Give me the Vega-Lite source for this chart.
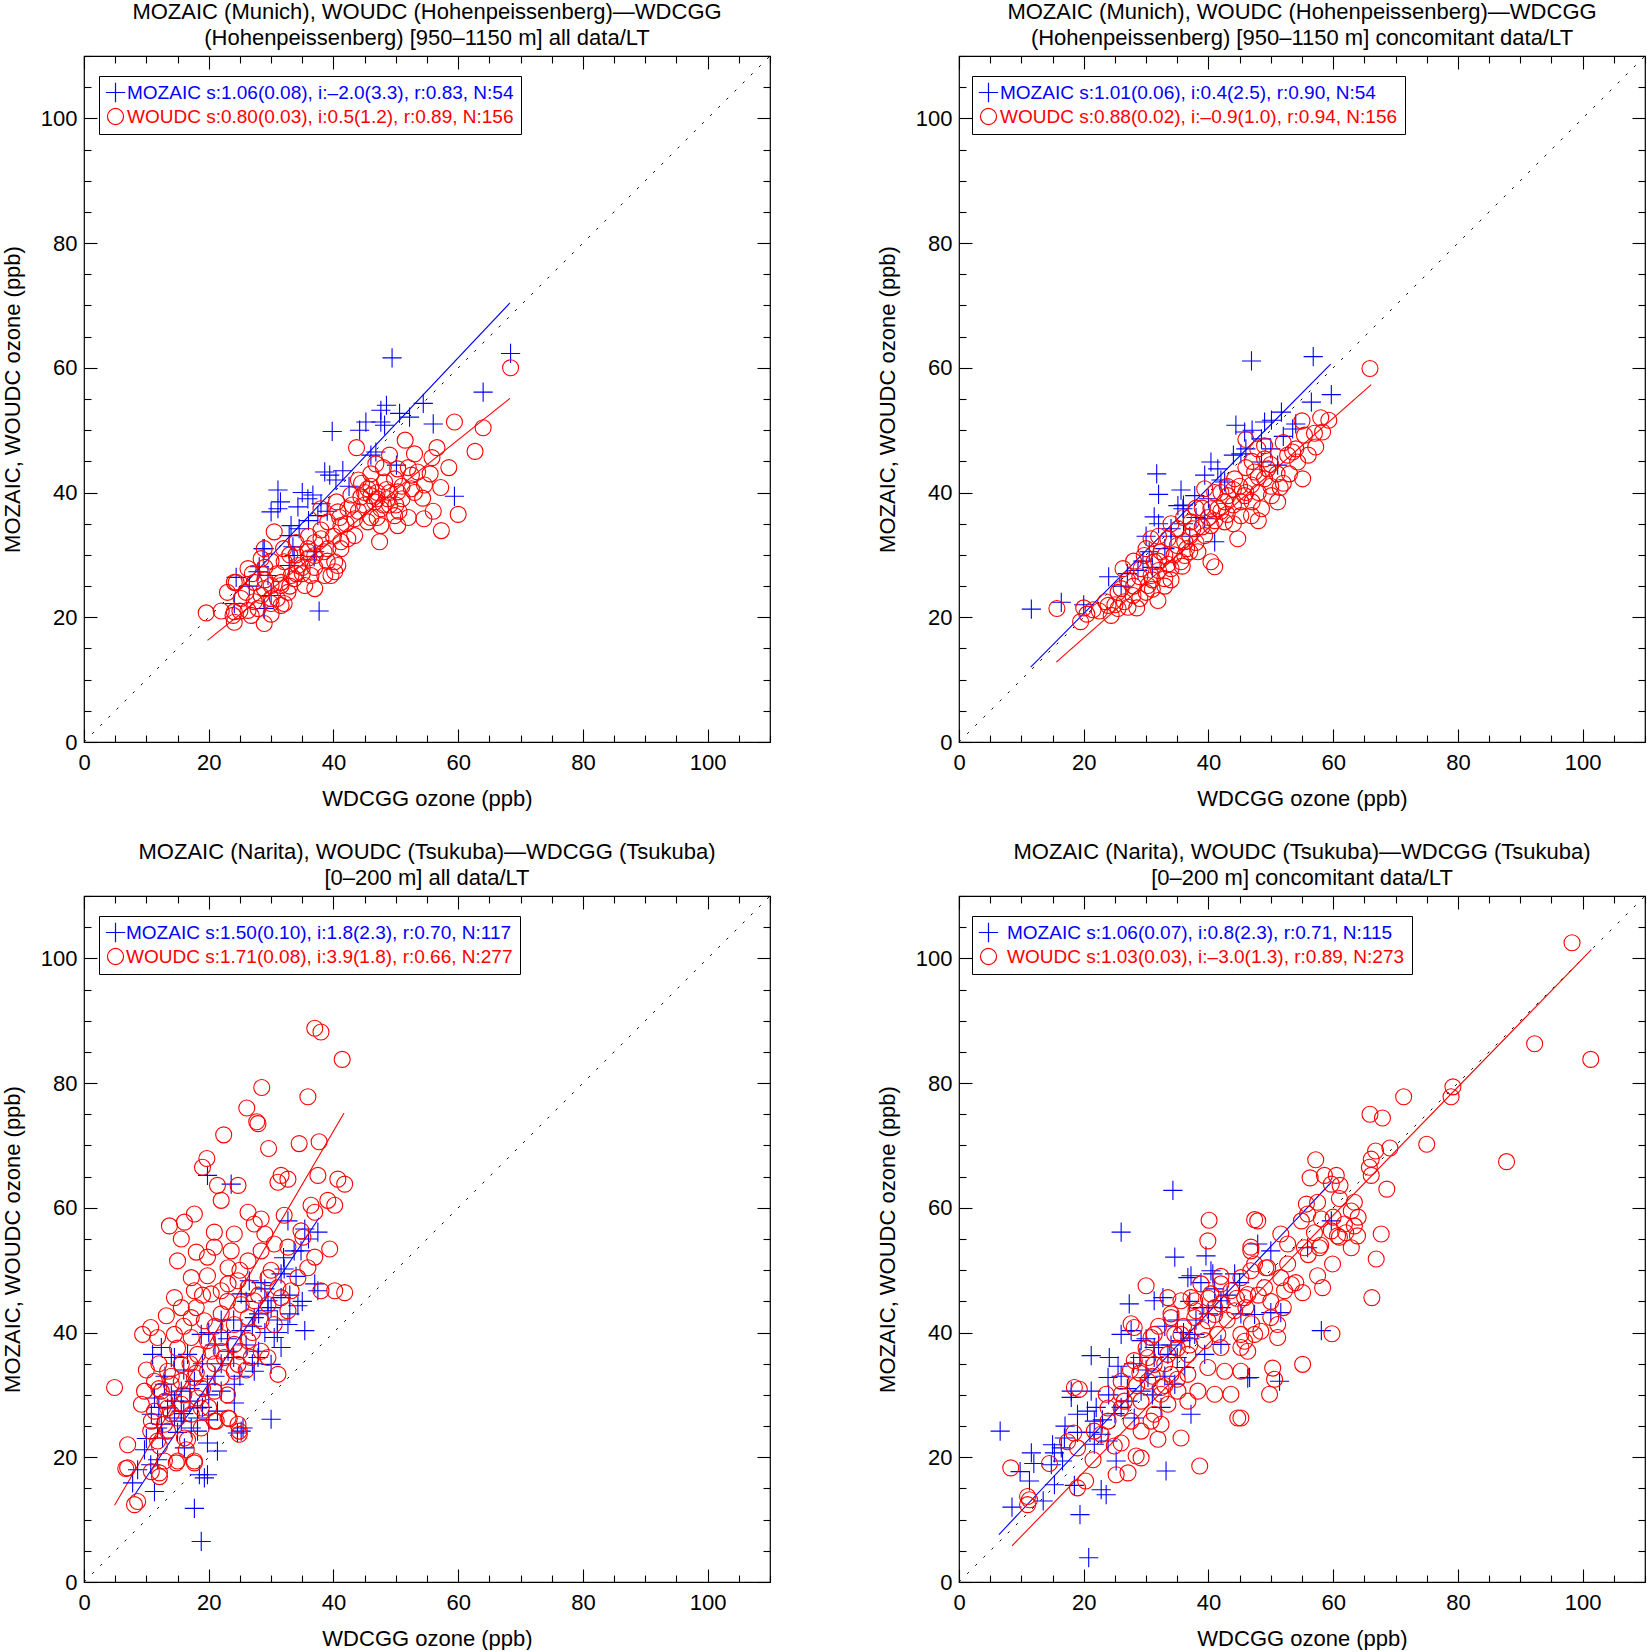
{
  "$schema": "https://vega.github.io/schema/vega-lite/v6.json",
  "padding": 0,
  "config": {
    "font": "Liberation Sans",
    "view": {"stroke": "black", "strokeWidth": 1.2},
    "title": {"fontSize": 22, "fontWeight": "normal", "offset": -5, "lineHeight": 26, "color": "black"},
    "axis": {"labelFontSize": 22, "titleFontSize": 22, "titleFontWeight": "normal", "labelColor": "black", "titleColor": "black", "tickColor": "black", "tickWidth": 1.1, "grid": false, "domain": false, "labelOverlap": false, "labelFlush": false, "tickSize": {"expr": "datum.value % 20 === 0 ? -13 : -7"}},
    "legend": {"title": null, "orient": "none", "strokeColor": "black", "fillColor": "white", "padding": 7, "labelFontSize": 19, "labelLimit": 1000, "symbolSize": 260, "symbolStrokeWidth": 1.2, "rowPadding": 1, "labelColor": {"expr": "datum.value === 'M' ? '#0000ff' : '#ff0000'"}}
  },
  "datasets": {
    "reg": [
      {"p": 1, "s": "M", "x": 24.3, "y": 23.8}, {"p": 1, "s": "M", "x": 68.3, "y": 70.4},
      {"p": 1, "s": "W", "x": 19.8, "y": 16.3}, {"p": 1, "s": "W", "x": 68.3, "y": 55.1},
      {"p": 2, "s": "M", "x": 11.5, "y": 12.0}, {"p": 2, "s": "M", "x": 59.6, "y": 60.6},
      {"p": 2, "s": "W", "x": 15.6, "y": 12.8}, {"p": 2, "s": "W", "x": 66.1, "y": 57.3},
      {"p": 3, "s": "M", "x": 8.0, "y": 13.8}, {"p": 3, "s": "M", "x": 37.7, "y": 58.4},
      {"p": 3, "s": "W", "x": 4.9, "y": 12.3}, {"p": 3, "s": "W", "x": 41.7, "y": 75.2},
      {"p": 4, "s": "M", "x": 6.4, "y": 7.6}, {"p": 4, "s": "M", "x": 59.7, "y": 64.1},
      {"p": 4, "s": "W", "x": 8.5, "y": 5.8}, {"p": 4, "s": "W", "x": 101.4, "y": 101.4}
    ],
    "diag": [{"x": 0, "y": 0}, {"x": 110, "y": 110}],
    "p1": [
      {"s":"M","x":49.4,"y":61.6},{"s":"M","x":64.0,"y":56.1},{"s":"M","x":68.4,"y":62.3},{"s":"M","x":54.4,"y":54.3},{"s":"M","x":52.2,"y":52.1},{"s":"M","x":50.6,"y":52.7},{"s":"M","x":47.6,"y":53.2},{"s":"M","x":47.6,"y":51.3},{"s":"M","x":48.2,"y":50.8},{"s":"M","x":45.2,"y":51.3},{"s":"M","x":44.2,"y":50.0},{"s":"M","x":39.8,"y":49.8},{"s":"M","x":56.0,"y":51.0},{"s":"M","x":46.8,"y":46.5},{"s":"M","x":50.1,"y":44.4},{"s":"M","x":38.6,"y":43.3},{"s":"M","x":39.4,"y":42.8},{"s":"M","x":40.4,"y":42.0},{"s":"M","x":31.1,"y":40.4},{"s":"M","x":36.7,"y":39.6},{"s":"M","x":35.9,"y":39.0},{"s":"M","x":31.1,"y":37.4},{"s":"M","x":30.0,"y":36.9},{"s":"M","x":34.3,"y":37.7},{"s":"M","x":38.0,"y":38.2},{"s":"M","x":37.5,"y":36.3},{"s":"M","x":33.2,"y":34.7},{"s":"M","x":34.5,"y":34.2},{"s":"M","x":59.4,"y":39.4},{"s":"M","x":28.9,"y":31.0},{"s":"M","x":37.0,"y":30.5},{"s":"M","x":28.1,"y":28.1},{"s":"M","x":24.4,"y":26.4},{"s":"M","x":29.5,"y":26.7},{"s":"M","x":28.9,"y":21.4},{"s":"M","x":37.7,"y":21.0},{"s":"M","x":33.7,"y":29.9},{"s":"M","x":32.9,"y":33.1},{"s":"M","x":24.1,"y":22.2},{"s":"M","x":28.7,"y":31.0},{"s":"M","x":27.9,"y":27.3},{"s":"M","x":33.5,"y":31.3},{"s":"M","x":32.9,"y":28.3},{"s":"M","x":30.0,"y":23.5},{"s":"M","x":36.9,"y":29.7},{"s":"M","x":41.5,"y":43.5},{"s":"M","x":42.5,"y":41.0},{"s":"M","x":36.0,"y":35.5},{"s":"M","x":39.0,"y":37.0},{"s":"M","x":48.5,"y":54.0},{"s":"M","x":46.0,"y":46.0},{"s":"M","x":31.5,"y":38.5},{"s":"M","x":26.5,"y":25.0},{"s":"M","x":35.0,"y":40.0},
      {"s":"W","x":59.4,"y":51.3},{"s":"W","x":64.0,"y":50.4},{"s":"W","x":62.7,"y":46.6},{"s":"W","x":68.4,"y":60.0},{"s":"W","x":51.5,"y":48.4},{"s":"W","x":43.7,"y":47.2},{"s":"W","x":53.0,"y":46.2},{"s":"W","x":56.6,"y":47.2},{"s":"W","x":55.8,"y":45.6},{"s":"W","x":46.8,"y":44.6},{"s":"W","x":53.5,"y":43.3},{"s":"W","x":57.2,"y":40.8},{"s":"W","x":54.3,"y":39.1},{"s":"W","x":54.5,"y":35.8},{"s":"W","x":57.3,"y":33.9},{"s":"W","x":38.0,"y":37.4},{"s":"W","x":30.5,"y":33.7},{"s":"W","x":28.9,"y":31.0},{"s":"W","x":24.4,"y":25.6},{"s":"W","x":19.6,"y":20.7},{"s":"W","x":28.4,"y":29.4},{"s":"W","x":60.0,"y":36.5},
      {"s":"W","x":50.3,"y":43.8},{"s":"W","x":49.8,"y":42.2},{"s":"W","x":52.5,"y":42.8},{"s":"W","x":48.2,"y":41.7},{"s":"W","x":45.5,"y":40.6},{"s":"W","x":44.4,"y":39.3},{"s":"W","x":46.6,"y":38.5},{"s":"W","x":48.7,"y":39.0},{"s":"W","x":50.3,"y":40.1},{"s":"W","x":52.5,"y":40.6},{"s":"W","x":54.6,"y":41.2},{"s":"W","x":47.6,"y":37.4},{"s":"W","x":49.8,"y":36.3},{"s":"W","x":47.6,"y":34.7},{"s":"W","x":45.5,"y":35.3},{"s":"W","x":50.3,"y":34.7},{"s":"W","x":43.4,"y":35.8},{"s":"W","x":42.3,"y":37.4},{"s":"W","x":42.8,"y":39.6},{"s":"W","x":40.7,"y":36.9},{"s":"W","x":41.2,"y":34.7},{"s":"W","x":39.1,"y":35.3},{"s":"W","x":38.0,"y":32.6},{"s":"W","x":35.9,"y":31.0},{"s":"W","x":37.0,"y":29.9},{"s":"W","x":39.1,"y":31.0},{"s":"W","x":40.2,"y":28.9},{"s":"W","x":38.6,"y":26.7},{"s":"W","x":40.2,"y":27.3},{"s":"W","x":36.4,"y":26.7},{"s":"W","x":34.3,"y":28.3},{"s":"W","x":32.1,"y":28.9},{"s":"W","x":33.2,"y":26.7},{"s":"W","x":31.6,"y":25.6},{"s":"W","x":30.0,"y":25.1},{"s":"W","x":28.9,"y":24.6},{"s":"W","x":27.3,"y":25.6},{"s":"W","x":30.0,"y":23.0},{"s":"W","x":27.9,"y":21.4},{"s":"W","x":31.6,"y":21.9},{"s":"W","x":32.7,"y":24.0},{"s":"W","x":37.0,"y":24.6},{"s":"W","x":35.4,"y":25.1},{"s":"W","x":41.2,"y":32.1},{"s":"W","x":42.3,"y":32.6},{"s":"W","x":43.4,"y":33.1},{"s":"W","x":26.3,"y":27.8},{"s":"W","x":24.1,"y":25.6},{"s":"W","x":25.2,"y":23.0},{"s":"W","x":23.9,"y":20.3},{"s":"W","x":26.8,"y":20.3},
      {"s":"W","x":24.1,"y":20.9},{"s":"W","x":24.1,"y":19.2},{"s":"W","x":28.9,"y":19.0},{"s":"W","x":26.3,"y":21.1},{"s":"W","x":32.1,"y":22.2},{"s":"W","x":30.0,"y":22.2},{"s":"W","x":28.4,"y":23.5},{"s":"W","x":27.3,"y":22.5},{"s":"W","x":39.6,"y":26.7},{"s":"W","x":40.7,"y":28.3},{"s":"W","x":33.7,"y":26.2},{"s":"W","x":31.6,"y":25.1},{"s":"W","x":38.5,"y":30.5},{"s":"W","x":41.2,"y":31.0},{"s":"W","x":35.9,"y":30.5},{"s":"W","x":47.4,"y":32.1},
      {"s":"W","x":41,"y":36},{"s":"W","x":43,"y":38},{"s":"W","x":46,"y":41},{"s":"W","x":47,"y":40},{"s":"W","x":48,"y":38},{"s":"W","x":49,"y":40},{"s":"W","x":51,"y":39},{"s":"W","x":46,"y":36},{"s":"W","x":44,"y":37},{"s":"W","x":50,"y":38},{"s":"W","x":52,"y":36},{"s":"W","x":53,"y":40},{"s":"W","x":47,"y":39},{"s":"W","x":45,"y":40},{"s":"W","x":33,"y":30},{"s":"W","x":35,"y":28},{"s":"W","x":31,"y":27},{"s":"W","x":29,"y":28},{"s":"W","x":34,"y":32},{"s":"W","x":36,"y":33},{"s":"W","x":38,"y":34},{"s":"W","x":44,"y":42},{"s":"W","x":46,"y":43},{"s":"W","x":48,"y":44},{"s":"W","x":51,"y":41},{"s":"W","x":49,"y":38},{"s":"W","x":47,"y":36},{"s":"W","x":45,"y":38},{"s":"W","x":42,"y":35},{"s":"W","x":40,"y":33},{"s":"W","x":37,"y":32},{"s":"W","x":34,"y":30},{"s":"W","x":32,"y":31},{"s":"W","x":30,"y":29},{"s":"W","x":29,"y":26},{"s":"W","x":31,"y":23},{"s":"W","x":33,"y":25},{"s":"W","x":35,"y":27},{"s":"W","x":37,"y":28},{"s":"W","x":39,"y":29},{"s":"W","x":26,"y":24},{"s":"W","x":27,"y":27},{"s":"W","x":25,"y":21},{"s":"W","x":22,"y":21},{"s":"W","x":23,"y":24},{"s":"W","x":30,"y":20.5},{"s":"W","x":34,"y":27},{"s":"W","x":36,"y":29.5},{"s":"W","x":48.5,"y":40.5},{"s":"W","x":50.5,"y":37},{"s":"W","x":46,"y":39.5},{"s":"W","x":44.5,"y":41.5},{"s":"W","x":52,"y":44},{"s":"W","x":49,"y":46},{"s":"W","x":40.5,"y":38.5},{"s":"W","x":55.5,"y":43},{"s":"W","x":56,"y":37},{"s":"W","x":58.5,"y":44}
    ],
    "p2": [
      {"s":"M","x":11.6,"y":21.3},{"s":"M","x":16.4,"y":22.4},{"s":"M","x":20.0,"y":22.0},{"s":"M","x":24.0,"y":26.5},{"s":"M","x":28.7,"y":27.5},{"s":"M","x":30.5,"y":30.5},{"s":"M","x":31.3,"y":36.1},{"s":"M","x":32.0,"y":39.7},{"s":"M","x":31.7,"y":43.0},{"s":"M","x":35.6,"y":40.4},{"s":"M","x":35.1,"y":37.9},{"s":"M","x":35.9,"y":37.4},{"s":"M","x":37.8,"y":39.5},{"s":"M","x":39.4,"y":42.8},{"s":"M","x":41.5,"y":43.8},{"s":"M","x":41.0,"y":32.1},{"s":"M","x":34.0,"y":34.2},{"s":"M","x":39.4,"y":35.8},{"s":"M","x":44.4,"y":50.8},{"s":"M","x":45.8,"y":49.7},{"s":"M","x":46.9,"y":61.1},{"s":"M","x":49.0,"y":51.3},{"s":"M","x":50.1,"y":51.6},{"s":"M","x":51.7,"y":52.9},{"s":"M","x":53.5,"y":50.2},{"s":"M","x":48.5,"y":48.6},{"s":"M","x":48.5,"y":44.9},{"s":"M","x":45.2,"y":46.2},{"s":"M","x":56.5,"y":54.5},{"s":"M","x":56.8,"y":61.8},{"s":"M","x":59.7,"y":55.7},{"s":"M","x":51.1,"y":44.4},{"s":"M","x":40.4,"y":44.9},{"s":"M","x":42.6,"y":41.7},{"s":"M","x":29.5,"y":29},{"s":"M","x":31,"y":28},{"s":"M","x":33,"y":31},{"s":"M","x":34,"y":33},{"s":"M","x":36,"y":35},{"s":"M","x":38,"y":36},{"s":"M","x":40,"y":39},{"s":"M","x":42,"y":42},{"s":"M","x":44,"y":46},{"s":"M","x":46,"y":47},{"s":"M","x":47,"y":50},{"s":"M","x":50,"y":47},{"s":"M","x":52,"y":49},{"s":"M","x":54,"y":51},{"s":"M","x":32,"y":35},{"s":"M","x":36,"y":38},{"s":"M","x":27,"y":27},{"s":"M","x":30,"y":33},{"s":"M","x":37,"y":33},{"s":"M","x":26,"y":25},
      {"s":"W","x":15.7,"y":21.4},{"s":"W","x":24.4,"y":20.3},{"s":"W","x":23.9,"y":21.9},{"s":"W","x":25.5,"y":21.4},{"s":"W","x":27.1,"y":21.6},{"s":"W","x":27.9,"y":23.5},{"s":"W","x":26.0,"y":24.6},{"s":"W","x":26.3,"y":27.8},{"s":"W","x":30.3,"y":25.1},{"s":"W","x":31.9,"y":22.7},{"s":"W","x":30.8,"y":26.7},{"s":"W","x":33.0,"y":26.2},{"s":"W","x":31.3,"y":28.9},{"s":"W","x":34.0,"y":27.8},{"s":"W","x":35.6,"y":28.9},{"s":"W","x":32.4,"y":30.5},{"s":"W","x":30.8,"y":32.6},{"s":"W","x":33.5,"y":32.6},{"s":"W","x":36.2,"y":32.1},{"s":"W","x":38.3,"y":30.5},{"s":"W","x":37.5,"y":34.2},{"s":"W","x":39.4,"y":33.1},{"s":"W","x":41.0,"y":28.1},{"s":"W","x":42.6,"y":35.3},{"s":"W","x":41.5,"y":37.4},{"s":"W","x":39.4,"y":40.6},{"s":"W","x":40.4,"y":37.4},{"s":"W","x":43.1,"y":39.5},{"s":"W","x":44.7,"y":32.6},{"s":"W","x":44.2,"y":42.2},{"s":"W","x":45.8,"y":39.5},{"s":"W","x":46.9,"y":41.2},{"s":"W","x":48.5,"y":37.4},{"s":"W","x":50.1,"y":39.5},{"s":"W","x":49.0,"y":42.2},{"s":"W","x":47.4,"y":43.3},{"s":"W","x":49.5,"y":43.8},{"s":"W","x":51.1,"y":38.5},{"s":"W","x":49.0,"y":45.4},{"s":"W","x":52.7,"y":46.0},{"s":"W","x":54.3,"y":44.9},{"s":"W","x":55.4,"y":49.2},{"s":"W","x":47.9,"y":47.0},{"s":"W","x":45.2,"y":38.5},{"s":"W","x":42.6,"y":38.5},{"s":"W","x":45.2,"y":36.3},{"s":"W","x":46.9,"y":36.3},{"s":"W","x":33.0,"y":29.9},{"s":"W","x":29.2,"y":27.8},{"s":"W","x":29.7,"y":29.9},{"s":"W","x":35.1,"y":34.2},{"s":"W","x":37.2,"y":35.3},{"s":"W","x":40.4,"y":34.7},{"s":"W","x":36.2,"y":29.9},{"s":"W","x":65.9,"y":59.9},{"s":"W","x":59.3,"y":51.6},{"s":"W","x":58.3,"y":49.7},{"s":"W","x":57.2,"y":47.3},{"s":"W","x":53.5,"y":46.5},{"s":"W","x":55.1,"y":42.2},{"s":"W","x":51.5,"y":40.8},{"s":"W","x":40.4,"y":28.9},{"s":"W","x":35.8,"y":28.2},{"s":"W","x":19.5,"y":19.3},{"s":"W","x":20.5,"y":20.5},{"s":"W","x":21.5,"y":21.2},{"s":"W","x":22.5,"y":21},{"s":"W","x":23.5,"y":22.5},{"s":"W","x":25,"y":22},{"s":"W","x":20,"y":21.5},
      {"s":"W","x":28,"y":25},{"s":"W","x":29,"y":26.5},{"s":"W","x":30,"y":24},{"s":"W","x":31,"y":26},{"s":"W","x":32,"y":27.5},{"s":"W","x":33,"y":25},{"s":"W","x":34,"y":26},{"s":"W","x":32,"y":29},{"s":"W","x":33.5,"y":28.5},{"s":"W","x":34.5,"y":30},{"s":"W","x":35,"y":31.5},{"s":"W","x":36.5,"y":31},{"s":"W","x":37,"y":33},{"s":"W","x":38,"y":32},{"s":"W","x":39,"y":34.5},{"s":"W","x":40,"y":36},{"s":"W","x":41,"y":35.5},{"s":"W","x":42,"y":37},{"s":"W","x":43,"y":36.5},{"s":"W","x":44,"y":38},{"s":"W","x":44,"y":40.5},{"s":"W","x":45,"y":41},{"s":"W","x":46,"y":40},{"s":"W","x":47,"y":38.5},{"s":"W","x":48,"y":40},{"s":"W","x":47,"y":45},{"s":"W","x":48,"y":42.5},{"s":"W","x":50,"y":41},{"s":"W","x":51,"y":43},{"s":"W","x":52,"y":41.5},{"s":"W","x":53,"y":43},{"s":"W","x":46,"y":44},{"s":"W","x":43,"y":41},{"s":"W","x":41,"y":40},{"s":"W","x":38,"y":37.5},{"s":"W","x":36,"y":36},{"s":"W","x":34,"y":35},{"s":"W","x":32,"y":33},{"s":"W","x":30,"y":31},{"s":"W","x":28,"y":29},{"s":"W","x":27,"y":26},{"s":"W","x":25.5,"y":24},{"s":"W","x":29,"y":23},{"s":"W","x":31,"y":24.5},{"s":"W","x":26.5,"y":22.5},{"s":"W","x":28.5,"y":21.5},{"s":"W","x":50,"y":44.5},{"s":"W","x":52,"y":48},{"s":"W","x":54,"y":47},{"s":"W","x":56,"y":46},{"s":"W","x":58,"y":52},{"s":"W","x":55,"y":51.5},{"s":"W","x":57,"y":49.5},{"s":"W","x":44,"y":35},{"s":"W","x":39,"y":37.5},{"s":"W","x":37,"y":30.5},{"s":"W","x":42,"y":40},{"s":"W","x":48,"y":35.5},{"s":"W","x":49,"y":47.5},{"s":"W","x":46,"y":48.5}
    ],
    "p3": [
      {"s":"M","x":11.0,"y":36.5},{"s":"M","x":12.4,"y":37.6},{"s":"M","x":31.6,"y":37.6},{"s":"M","x":35.4,"y":40.3},{"s":"M","x":37.5,"y":46.7},{"s":"M","x":28.4,"y":48.0},{"s":"M","x":26.5,"y":48.3},{"s":"M","x":32.1,"y":50.2},{"s":"M","x":32.7,"y":57.9},{"s":"M","x":35.4,"y":56.6},{"s":"M","x":37.5,"y":56.1},{"s":"M","x":34.8,"y":53.1},{"s":"M","x":34.3,"y":44.3},{"s":"M","x":29.5,"y":45.1},{"s":"M","x":31.6,"y":45.6},{"s":"M","x":25.2,"y":46.2},{"s":"M","x":22.0,"y":40.0},{"s":"M","x":18.8,"y":39.7},{"s":"M","x":16.6,"y":36.5},{"s":"M","x":14.5,"y":36.0},{"s":"M","x":23.1,"y":37.0},{"s":"M","x":25.2,"y":40.3},{"s":"M","x":27.9,"y":36.0},{"s":"M","x":30.0,"y":34.9},{"s":"M","x":27.3,"y":33.8},{"s":"M","x":24.1,"y":31.7},{"s":"M","x":22.0,"y":30.6},{"s":"M","x":19.8,"y":31.7},{"s":"M","x":17.7,"y":32.2},{"s":"M","x":15.6,"y":30.6},{"s":"M","x":12.9,"y":31.7},{"s":"M","x":11.3,"y":29.5},{"s":"M","x":13.4,"y":27.9},{"s":"M","x":15.6,"y":27.4},{"s":"M","x":18.2,"y":26.3},{"s":"M","x":21.4,"y":27.4},{"s":"M","x":24.1,"y":28.7},{"s":"M","x":25.2,"y":24.2},{"s":"M","x":18.2,"y":24.2},{"s":"M","x":15.6,"y":25.8},{"s":"M","x":12.4,"y":25.3},{"s":"M","x":10.8,"y":26.9},{"s":"M","x":30.0,"y":26.1},{"s":"M","x":23.6,"y":63.8},{"s":"M","x":19.8,"y":65.2},{"s":"M","x":32.7,"y":41.3},{"s":"M","x":29.5,"y":43.5},{"s":"M","x":30.5,"y":39.2},{"s":"M","x":27.3,"y":42.4},{"s":"M","x":37.0,"y":47.8},{"s":"M","x":33.7,"y":53.1},{"s":"M","x":31.6,"y":49.4},
      {"s":"M","x":8.6,"y":18.0},{"s":"M","x":7.8,"y":15.9},{"s":"M","x":11.3,"y":14.5},{"s":"M","x":10.7,"y":18.8},{"s":"M","x":9.7,"y":21.2},{"s":"M","x":11.8,"y":19.6},{"s":"M","x":12.6,"y":23.1},{"s":"M","x":14.5,"y":26.3},{"s":"M","x":18.5,"y":17.2},{"s":"M","x":19.3,"y":16.7},{"s":"M","x":19.8,"y":17.2},{"s":"M","x":17.7,"y":11.8},{"s":"M","x":18.8,"y":6.5},{"s":"M","x":21.4,"y":21.0},{"s":"M","x":19.8,"y":22.3},{"s":"M","x":24.6,"y":23.9},{"s":"M","x":25.5,"y":24.7},{"s":"M","x":17.2,"y":24.7},{"s":"M","x":16.1,"y":21.5},{"s":"M","x":11.8,"y":24.7},{"s":"M","x":14.5,"y":29.0},{"s":"M","x":18.2,"y":27.9},
      {"s":"M","x":13,"y":33},{"s":"M","x":14,"y":30},{"s":"M","x":16,"y":34},{"s":"M","x":17,"y":29},{"s":"M","x":19,"y":35},{"s":"M","x":20,"y":30},{"s":"M","x":21,"y":33},{"s":"M","x":22,"y":35},{"s":"M","x":23,"y":39},{"s":"M","x":24,"y":36},{"s":"M","x":26,"y":38},{"s":"M","x":27,"y":41},{"s":"M","x":28,"y":43},{"s":"M","x":29,"y":40},{"s":"M","x":30,"y":44},{"s":"M","x":31,"y":42},{"s":"M","x":33,"y":46},{"s":"M","x":34,"y":49},{"s":"M","x":12,"y":28},{"s":"M","x":15,"y":24},{"s":"M","x":16,"y":27},{"s":"M","x":17,"y":31},{"s":"M","x":19,"y":28},{"s":"M","x":20,"y":26},{"s":"M","x":21,"y":38},{"s":"M","x":22,"y":42},{"s":"M","x":25,"y":33},{"s":"M","x":26,"y":45},{"s":"M","x":28,"y":37},{"s":"M","x":29,"y":47},{"s":"M","x":31,"y":40},{"s":"M","x":32,"y":52},{"s":"M","x":33,"y":43},{"s":"M","x":35,"y":45},{"s":"M","x":36,"y":55},{"s":"M","x":10,"y":23},{"s":"M","x":14,"y":36},{"s":"M","x":20,"y":40},{"s":"M","x":24,"y":42},{"s":"M","x":27,"y":35},
      {"s":"W","x":37.0,"y":88.8},{"s":"W","x":38.0,"y":88.2},{"s":"W","x":41.4,"y":83.8},{"s":"W","x":28.5,"y":79.3},{"s":"W","x":35.9,"y":77.8},{"s":"W","x":26.1,"y":76.0},{"s":"W","x":27.7,"y":73.8},{"s":"W","x":27.9,"y":73.5},{"s":"W","x":22.4,"y":71.7},{"s":"W","x":29.6,"y":69.5},{"s":"W","x":34.5,"y":70.3},{"s":"W","x":19.7,"y":67.9},{"s":"W","x":37.7,"y":70.6},
      {"s":"W","x":19.0,"y":66.5},{"s":"W","x":31.6,"y":65.2},{"s":"W","x":32.7,"y":64.6},{"s":"W","x":31.1,"y":64.1},{"s":"W","x":37.5,"y":65.2},{"s":"W","x":40.7,"y":64.6},{"s":"W","x":41.8,"y":63.8},{"s":"W","x":21.4,"y":63.6},{"s":"W","x":24.7,"y":63.6},{"s":"W","x":22.0,"y":61.2},{"s":"W","x":17.7,"y":59.0},{"s":"W","x":16.1,"y":57.7},{"s":"W","x":13.7,"y":57.1},{"s":"W","x":15.6,"y":55.0},{"s":"W","x":18.0,"y":52.9},{"s":"W","x":20.9,"y":56.1},{"s":"W","x":20.9,"y":53.7},{"s":"W","x":23.6,"y":53.1},{"s":"W","x":24.1,"y":55.8},{"s":"W","x":26.3,"y":59.3},{"s":"W","x":27.3,"y":57.4},{"s":"W","x":28.4,"y":58.2},{"s":"W","x":29.0,"y":55.8},{"s":"W","x":30.5,"y":54.2},{"s":"W","x":32.1,"y":58.8},{"s":"W","x":36.4,"y":60.4},{"s":"W","x":39.1,"y":61.2},{"s":"W","x":40.2,"y":60.4},{"s":"W","x":37.0,"y":59.3},{"s":"W","x":34.8,"y":56.3},{"s":"W","x":32.7,"y":53.7},{"s":"W","x":35.1,"y":55.3},{"s":"W","x":37.0,"y":52.1},{"s":"W","x":39.4,"y":53.4},{"s":"W","x":35.9,"y":50.4},{"s":"W","x":38.0,"y":46.7},{"s":"W","x":40.2,"y":46.7},{"s":"W","x":41.8,"y":46.4},
      {"s":"W","x":17.2,"y":48.8},{"s":"W","x":19.8,"y":49.1},{"s":"W","x":14.5,"y":45.6},{"s":"W","x":17.7,"y":46.7},{"s":"W","x":20.4,"y":46.2},{"s":"W","x":22.0,"y":46.7},{"s":"W","x":23.1,"y":47.8},{"s":"W","x":24.7,"y":48.3},{"s":"W","x":26.3,"y":47.2},{"s":"W","x":25.2,"y":44.5},{"s":"W","x":27.3,"y":45.1},{"s":"W","x":29.5,"y":44.5},{"s":"W","x":31.6,"y":45.6},{"s":"W","x":32.7,"y":43.5},{"s":"W","x":30.5,"y":41.3},{"s":"W","x":28.4,"y":41.9},{"s":"W","x":26.3,"y":42.4},{"s":"W","x":24.1,"y":41.3},{"s":"W","x":22.0,"y":43.0},{"s":"W","x":19.3,"y":41.9},{"s":"W","x":17.2,"y":42.4},{"s":"W","x":15.6,"y":44.0},{"s":"W","x":13.2,"y":42.7},{"s":"W","x":10.7,"y":40.8},{"s":"W","x":9.4,"y":39.7},{"s":"W","x":11.8,"y":39.2},{"s":"W","x":14.5,"y":39.7},{"s":"W","x":17.2,"y":39.2},{"s":"W","x":19.8,"y":38.7},{"s":"W","x":22.0,"y":39.2},{"s":"W","x":24.1,"y":38.1},{"s":"W","x":26.3,"y":38.7},{"s":"W","x":28.4,"y":37.0},{"s":"W","x":29.5,"y":36.0},{"s":"W","x":31.1,"y":33.3},{"s":"W","x":26.8,"y":36.0},{"s":"W","x":24.7,"y":34.9},{"s":"W","x":22.5,"y":36.0},{"s":"W","x":20.4,"y":37.0},{"s":"W","x":18.2,"y":36.5},{"s":"W","x":15.6,"y":34.9},{"s":"W","x":13.4,"y":33.8},{"s":"W","x":11.3,"y":32.2},{"s":"W","x":9.7,"y":30.6},{"s":"W","x":4.9,"y":31.2},{"s":"W","x":12.4,"y":30.6},{"s":"W","x":14.0,"y":31.7},{"s":"W","x":15.6,"y":32.2},{"s":"W","x":17.7,"y":32.8},{"s":"W","x":19.8,"y":33.8},{"s":"W","x":22.0,"y":32.8},{"s":"W","x":24.1,"y":33.8},{"s":"W","x":20.9,"y":30.6},{"s":"W","x":18.2,"y":29.5},{"s":"W","x":15.6,"y":28.5},{"s":"W","x":13.4,"y":27.9},{"s":"W","x":11.3,"y":27.4},{"s":"W","x":9.2,"y":28.5},{"s":"W","x":10.8,"y":25.8},{"s":"W","x":12.9,"y":25.3},{"s":"W","x":15.0,"y":26.3},{"s":"W","x":17.2,"y":26.9},{"s":"W","x":18.8,"y":27.9},{"s":"W","x":20.9,"y":25.8},{"s":"W","x":23.1,"y":26.3},{"s":"W","x":24.7,"y":25.3},{"s":"W","x":16.1,"y":23.1},{"s":"W","x":13.4,"y":24.2},{"s":"W","x":7.0,"y":22.0},{"s":"W","x":11.8,"y":22.6},{"s":"W","x":15.0,"y":19.4},{"s":"W","x":17.7,"y":19.4},{"s":"W","x":12.9,"y":19.4},{"s":"W","x":7.0,"y":18.3},{"s":"W","x":10.8,"y":17.7},{"s":"W","x":12.1,"y":16.9},{"s":"W","x":24.9,"y":24.2},{"s":"W","x":31.1,"y":47.2},{"s":"W","x":29.5,"y":48.8},{"s":"W","x":23.1,"y":50.4},{"s":"W","x":26.3,"y":51.5},{"s":"W","x":28.4,"y":53.1},{"s":"W","x":19.8,"y":52.1},{"s":"W","x":15.0,"y":51.5},{"s":"W","x":33.2,"y":46.7},{"s":"W","x":34.3,"y":48.8},
      {"s":"W","x":6.7,"y":18.2},{"s":"W","x":8.6,"y":12.9},{"s":"W","x":8.1,"y":12.4},{"s":"W","x":12.1,"y":17.5},{"s":"W","x":14.8,"y":19.1},{"s":"W","x":17.7,"y":19.1},{"s":"W","x":16.4,"y":21.2},{"s":"W","x":12.1,"y":21.8},{"s":"W","x":24.9,"y":23.7},{"s":"W","x":23.3,"y":26.2},{"s":"W","x":21.2,"y":25.8},{"s":"W","x":18.8,"y":24.7},{"s":"W","x":10.7,"y":24.2},{"s":"W","x":16.6,"y":22.8},
      {"s":"W","x":12,"y":35},{"s":"W","x":13,"y":29},{"s":"W","x":14,"y":33},{"s":"W","x":16,"y":30},{"s":"W","x":17,"y":35},{"s":"W","x":19,"y":31},{"s":"W","x":21,"y":35},{"s":"W","x":23,"y":30},{"s":"W","x":25,"y":37},{"s":"W","x":27,"y":40},{"s":"W","x":21,"y":41},{"s":"W","x":18,"y":44},{"s":"W","x":16,"y":41},{"s":"W","x":23,"y":45},{"s":"W","x":28,"y":46},{"s":"W","x":30,"y":50},{"s":"W","x":25,"y":50},{"s":"W","x":19,"y":46},{"s":"W","x":12,"y":31},{"s":"W","x":10,"y":34},{"s":"W","x":14,"y":27},{"s":"W","x":20,"y":28},{"s":"W","x":22,"y":37},{"s":"W","x":26,"y":34},{"s":"W","x":18,"y":33.5},{"s":"W","x":15,"y":37.5}
    ],
    "p4": [
      {"s":"M","x":6.6,"y":24.2},{"s":"M","x":9.8,"y":17.7},{"s":"M","x":11.6,"y":20.7},{"s":"M","x":15.3,"y":20.7},{"s":"M","x":16.4,"y":21.5},{"s":"M","x":16.9,"y":23.1},{"s":"M","x":15.3,"y":15.6},{"s":"M","x":18.0,"y":29.6},{"s":"M","x":21.2,"y":36.3},{"s":"M","x":24.1,"y":36.0},{"s":"M","x":25.5,"y":34.6},{"s":"M","x":26.0,"y":56.1},{"s":"M","x":27.3,"y":44.6},{"s":"M","x":31.3,"y":45.1},{"s":"M","x":32.7,"y":45.6},{"s":"M","x":34.3,"y":62.8},{"s":"M","x":34.6,"y":52.1},{"s":"M","x":39.6,"y":52.3},{"s":"M","x":36.7,"y":48.8},{"s":"M","x":38.8,"y":48.0},{"s":"M","x":40.4,"y":49.9},{"s":"M","x":44.2,"y":49.4},{"s":"M","x":27.6,"y":40.3},{"s":"M","x":29.2,"y":38.7},{"s":"M","x":31.3,"y":37.6},{"s":"M","x":33.5,"y":36.5},{"s":"M","x":35.6,"y":38.7},{"s":"M","x":37.8,"y":39.7},{"s":"M","x":39.4,"y":36.5},{"s":"M","x":42.0,"y":38.1},{"s":"M","x":31.3,"y":36.0},{"s":"M","x":23.9,"y":32.8},{"s":"M","x":21.2,"y":30.6},{"s":"M","x":20.6,"y":27.4},{"s":"M","x":21.7,"y":25.8},{"s":"M","x":22.8,"y":23.7},{"s":"M","x":21.7,"y":22.1},{"s":"M","x":23.9,"y":22.6},{"s":"M","x":25.2,"y":19.4},{"s":"M","x":27.1,"y":29.0},{"s":"M","x":28.1,"y":26.3},{"s":"M","x":29.2,"y":30.6},{"s":"M","x":30.3,"y":32.8},{"s":"M","x":33.2,"y":17.8},{"s":"M","x":22.8,"y":14.8},{"s":"M","x":23.6,"y":14.0},{"s":"M","x":37.2,"y":26.9},{"s":"M","x":46.6,"y":32.8},{"s":"M","x":45.2,"y":43.0},{"s":"M","x":42.0,"y":45.1},{"s":"M","x":34.6,"y":31.7},{"s":"M","x":36.2,"y":34.4},{"s":"M","x":32.4,"y":28.0},{"s":"M","x":26.0,"y":39.7},{"s":"M","x":18.0,"y":30.6},{"s":"M","x":19.0,"y":26.9},{"s":"M","x":16.6,"y":19.4},{"s":"M","x":14.8,"y":18.8},
      {"s":"M","x":37.2,"y":49.1},{"s":"M","x":40.7,"y":49.4},{"s":"M","x":47.9,"y":54.2},{"s":"M","x":50.0,"y":53.1},{"s":"M","x":55.9,"y":53.6},{"s":"M","x":59.7,"y":57.9},{"s":"M","x":58.1,"y":40.3},{"s":"M","x":51.4,"y":32.2},{"s":"M","x":46.3,"y":32.7},{"s":"M","x":50.0,"y":43.2},{"s":"M","x":47.4,"y":42.9},{"s":"M","x":51.6,"y":43.2},
      {"s":"M","x":20.8,"y":3.9},{"s":"M","x":19.4,"y":10.8},{"s":"M","x":11.3,"y":16.2},{"s":"M","x":13.5,"y":13},{"s":"M","x":8.5,"y":12},{"s":"M","x":18.5,"y":15.5},{"s":"M","x":17,"y":25},{"s":"M","x":15,"y":22},{"s":"M","x":12,"y":19},
      {"s":"M","x":26,"y":33},{"s":"M","x":28,"y":35},{"s":"M","x":30,"y":39},{"s":"M","x":33,"y":41},{"s":"M","x":35,"y":42},{"s":"M","x":37,"y":45},{"s":"M","x":39,"y":44},{"s":"M","x":41,"y":47},{"s":"M","x":43,"y":46},{"s":"M","x":45,"y":48},{"s":"M","x":24,"y":30},{"s":"M","x":22,"y":28},{"s":"M","x":19,"y":24},{"s":"M","x":26,"y":28},{"s":"M","x":30,"y":34},{"s":"M","x":32,"y":38},{"s":"M","x":34,"y":38},{"s":"M","x":36,"y":40},{"s":"M","x":38,"y":42},{"s":"M","x":40,"y":43},{"s":"M","x":42,"y":44},{"s":"M","x":29,"y":36},{"s":"M","x":27,"y":31},{"s":"M","x":31,"y":30},{"s":"M","x":33,"y":33},{"s":"M","x":23,"y":26},{"s":"M","x":21,"y":24},{"s":"M","x":25,"y":27},{"s":"M","x":35,"y":36},{"s":"M","x":37,"y":39},
      {"s":"W","x":92.3,"y":86.3},{"s":"W","x":101.3,"y":83.8},{"s":"W","x":98.3,"y":102.5},{"s":"W","x":87.8,"y":67.4},{"s":"W","x":79.2,"y":79.4},{"s":"W","x":78.9,"y":77.8},{"s":"W","x":71.3,"y":77.8},{"s":"W","x":75.0,"y":70.2},{"s":"W","x":65.9,"y":75.0},{"s":"W","x":67.9,"y":74.4},{"s":"W","x":69.1,"y":69.6},{"s":"W","x":66.8,"y":69.1},{"s":"W","x":66.1,"y":67.8},{"s":"W","x":65.8,"y":66.5},{"s":"W","x":66.1,"y":65.2},{"s":"W","x":68.6,"y":63.0},{"s":"W","x":57.2,"y":67.7},{"s":"W","x":56.3,"y":64.8},{"s":"W","x":58.6,"y":65.2},{"s":"W","x":60.5,"y":65.2},{"s":"W","x":61.1,"y":63.6},{"s":"W","x":59.7,"y":63.8},{"s":"W","x":55.7,"y":60.6},{"s":"W","x":57.5,"y":60.9},{"s":"W","x":63.4,"y":60.9},{"s":"W","x":62.9,"y":59.5},{"s":"W","x":55.9,"y":59.0},{"s":"W","x":58.1,"y":58.2},{"s":"W","x":61.8,"y":57.4},{"s":"W","x":63.4,"y":57.1},{"s":"W","x":63.9,"y":55.5},{"s":"W","x":60.7,"y":55.5},{"s":"W","x":59.7,"y":56.3},{"s":"W","x":61.0,"y":55.3},{"s":"W","x":62.9,"y":53.6},{"s":"W","x":67.7,"y":55.8},{"s":"W","x":66.9,"y":51.8},{"s":"W","x":59.9,"y":51.0},{"s":"W","x":57.8,"y":53.6},{"s":"W","x":55.4,"y":53.6},{"s":"W","x":52.7,"y":54.2},{"s":"W","x":51.6,"y":55.8},{"s":"W","x":47.9,"y":57.9},{"s":"W","x":40.1,"y":58.0},{"s":"W","x":39.9,"y":54.7},{"s":"W","x":46.8,"y":53.1},{"s":"W","x":49.5,"y":50.4},{"s":"W","x":54.9,"y":57.9},
      {"s":"W","x":47.4,"y":58.1},{"s":"W","x":46.8,"y":53.7},{"s":"W","x":47.4,"y":51.0},{"s":"W","x":45.2,"y":48.8},{"s":"W","x":42.0,"y":47.8},{"s":"W","x":38.8,"y":47.8},{"s":"W","x":37.8,"y":45.1},{"s":"W","x":35.6,"y":45.1},{"s":"W","x":30.0,"y":47.5},{"s":"W","x":43.6,"y":46.7},{"s":"W","x":45.8,"y":45.6},{"s":"W","x":44.2,"y":43.5},{"s":"W","x":41.0,"y":42.9},{"s":"W","x":37.8,"y":42.4},{"s":"W","x":34.6,"y":39.7},{"s":"W","x":31.3,"y":39.7},{"s":"W","x":28.1,"y":40.8},{"s":"W","x":27.6,"y":41.4},{"s":"W","x":47.4,"y":39.7},{"s":"W","x":45.2,"y":37.6},{"s":"W","x":42.0,"y":37.6},{"s":"W","x":39.4,"y":38.7},{"s":"W","x":36.7,"y":36.5},{"s":"W","x":33.5,"y":36.5},{"s":"W","x":31.3,"y":34.9},{"s":"W","x":30.3,"y":32.2},{"s":"W","x":34.0,"y":33.3},{"s":"W","x":36.7,"y":33.3},{"s":"W","x":39.9,"y":34.4},{"s":"W","x":42.6,"y":33.8},{"s":"W","x":45.2,"y":33.8},{"s":"W","x":41.0,"y":30.1},{"s":"W","x":43.6,"y":30.1},{"s":"W","x":44.7,"y":26.3},{"s":"W","x":38.3,"y":30.6},{"s":"W","x":32.4,"y":30.1},{"s":"W","x":29.2,"y":29.0},{"s":"W","x":33.5,"y":28.5},{"s":"W","x":31.3,"y":26.9},{"s":"W","x":30.8,"y":25.8},{"s":"W","x":32.4,"y":25.3},{"s":"W","x":29.2,"y":24.2},{"s":"W","x":31.9,"y":22.9},{"s":"W","x":35.6,"y":23.1},{"s":"W","x":38.6,"y":18.6},{"s":"W","x":28.4,"y":20.2},{"s":"W","x":29.2,"y":19.9},{"s":"W","x":26.0,"y":22.3},{"s":"W","x":27.1,"y":17.5},{"s":"W","x":25.2,"y":17.2},{"s":"W","x":23.6,"y":30.1},{"s":"W","x":26.0,"y":30.1},{"s":"W","x":18.5,"y":31.2},{"s":"W","x":19.3,"y":30.9},{"s":"W","x":21.7,"y":24.2},{"s":"W","x":22.8,"y":23.7},{"s":"W","x":19.0,"y":21.5},{"s":"W","x":21.5,"y":19.6},{"s":"W","x":19.0,"y":15.1},{"s":"W","x":8.3,"y":18.3},{"s":"W","x":11.3,"y":13.2},{"s":"W","x":23.9,"y":25.8},{"s":"W","x":26.0,"y":27.9},{"s":"W","x":28.1,"y":35.5},{"s":"W","x":30.8,"y":39.2},{"s":"W","x":30.3,"y":36.0},{"s":"W","x":32.4,"y":31.2},{"s":"W","x":35.1,"y":30.6},{"s":"W","x":36.7,"y":29.0},{"s":"W","x":26.0,"y":32.2},{"s":"W","x":23.9,"y":27.9},{"s":"W","x":27.6,"y":25.8},{"s":"W","x":33.5,"y":45.6},{"s":"W","x":37.2,"y":45.6},{"s":"W","x":35.6,"y":39.7},{"s":"W","x":34.0,"y":42.4},{"s":"W","x":39.9,"y":41.9},{"s":"W","x":41.5,"y":39.7},{"s":"W","x":40.4,"y":46.2},{"s":"W","x":42.0,"y":44.6},{"s":"W","x":46.9,"y":41.4},{"s":"W","x":45.2,"y":39.7},
      {"s":"W","x":66.2,"y":45.6},{"s":"W","x":57.5,"y":49.1},{"s":"W","x":58.3,"y":47.2},{"s":"W","x":55.1,"y":46.4},{"s":"W","x":52.2,"y":46.7},{"s":"W","x":53.3,"y":47.7},{"s":"W","x":51.6,"y":48.8},{"s":"W","x":49.0,"y":47.2},{"s":"W","x":46.3,"y":46.1},{"s":"W","x":49.2,"y":50.4},{"s":"W","x":46.8,"y":49.9},{"s":"W","x":52.7,"y":51.0},{"s":"W","x":50.0,"y":42.4},{"s":"W","x":51.1,"y":41.3},{"s":"W","x":48.4,"y":40.2},{"s":"W","x":51.1,"y":39.2},{"s":"W","x":59.8,"y":39.8},{"s":"W","x":55.1,"y":34.9},{"s":"W","x":50.3,"y":34.3},{"s":"W","x":50.6,"y":32.5},{"s":"W","x":49.8,"y":30.1},{"s":"W","x":45.2,"y":26.3},{"s":"W","x":46.3,"y":37.0},{"s":"W","x":45.8,"y":38.6},
      {"s":"W","x":11.0,"y":13.7},{"s":"W","x":11.0,"y":12.4},{"s":"W","x":20.3,"y":16.2},{"s":"W","x":18.4,"y":23.9},{"s":"W","x":24.9,"y":21.8},{"s":"W","x":17.4,"y":22.5},{"s":"W","x":14.5,"y":19.0},{"s":"W","x":27.5,"y":34.0},{"s":"W","x":26.5,"y":29.0},{"s":"W","x":28.5,"y":31.5},{"s":"W","x":31.0,"y":33.0},{"s":"W","x":33.0,"y":35.0},{"s":"W","x":35.0,"y":37.5},{"s":"W","x":37.0,"y":38.0},{"s":"W","x":39.0,"y":40.5},{"s":"W","x":41.0,"y":44.0},{"s":"W","x":43.0,"y":42.0},{"s":"W","x":44.5,"y":45.5},{"s":"W","x":46.0,"y":44.0},{"s":"W","x":48.0,"y":46.0},{"s":"W","x":50.0,"y":45.0},{"s":"W","x":52.0,"y":44.0},{"s":"W","x":54.0,"y":48.0},{"s":"W","x":56.0,"y":52.5},{"s":"W","x":58.0,"y":54.0},{"s":"W","x":60.0,"y":58.5},{"s":"W","x":62.0,"y":56.0},{"s":"W","x":64.0,"y":58.5},{"s":"W","x":61.0,"y":61.5},{"s":"W","x":57.0,"y":56.0},{"s":"W","x":36.0,"y":41.0},{"s":"W","x":38.0,"y":43.5},{"s":"W","x":40.0,"y":45.5},{"s":"W","x":42.0,"y":49.0},{"s":"W","x":34.0,"y":43.0},{"s":"W","x":32.0,"y":41.0},{"s":"W","x":30.0,"y":37.5},{"s":"W","x":29.0,"y":33.5},{"s":"W","x":33.0,"y":31.5},{"s":"W","x":35.0,"y":32.5}
    ]
  },
  "columns": 2,
  "spacing": {"row": 154, "column": 189},
  "bounds": "flush",
  "resolve": {"scale": {"x": "independent", "y": "independent", "color": "independent", "shape": "independent"}},
  "concat": [
    {
      "width": 686, "height": 686,
      "title": {"text": ["MOZAIC (Munich), WOUDC (Hohenpeissenberg)—WDCGG", "(Hohenpeissenberg) [950–1150 m] all data/LT"]},
      "resolve": {"axis": {"x": "independent", "y": "independent"}},
      "layer": [
        {
          "data": {"name": "diag"},
          "mark": {"type": "line", "color": "black", "strokeWidth": 1, "strokeDash": [2.5, 9], "clip": true},
          "encoding": {
            "x": {"field": "x", "type": "quantitative", "scale": {"domain": [0, 110], "nice": false}, "axis": {"orient": "top", "values": [0,5,10,15,20,25,30,35,40,45,50,55,60,65,70,75,80,85,90,95,100,105,110], "labels": false, "title": null, "maxExtent": 0}},
            "y": {"field": "y", "type": "quantitative", "scale": {"domain": [0, 110], "nice": false}, "axis": {"orient": "right", "values": [0,5,10,15,20,25,30,35,40,45,50,55,60,65,70,75,80,85,90,95,100,105,110], "labels": false, "title": null, "maxExtent": 0}}
          }
        },
        {
          "data": {"name": "reg"},
          "transform": [{"filter": "datum.p === 1"}],
          "mark": {"type": "line", "strokeWidth": 1.1, "clip": true},
          "encoding": {
            "x": {"field": "x", "type": "quantitative", "axis": null},
            "y": {"field": "y", "type": "quantitative", "axis": null},
            "detail": {"field": "s"},
            "stroke": {"field": "s", "type": "nominal", "scale": {"domain": ["M", "W"], "range": ["#0000ff", "#ff0000"]}, "legend": null}
          }
        },
        {
          "data": {"name": "p1"},
          "mark": {"type": "point", "filled": false, "size": 256, "strokeWidth": 1.1, "opacity": 1},
          "encoding": {
            "x": {"field": "x", "type": "quantitative", "axis": {"orient": "bottom", "values": [0,5,10,15,20,25,30,35,40,45,50,55,60,65,70,75,80,85,90,95,100,105,110], "labelExpr": "datum.value % 20 === 0 && datum.value < 110 ? datum.label : ''", "title": "WDCGG ozone (ppb)", "labelPadding": 23, "titlePadding": 9}},
            "y": {"field": "y", "type": "quantitative", "axis": {"orient": "left", "values": [0,5,10,15,20,25,30,35,40,45,50,55,60,65,70,75,80,85,90,95,100,105,110], "labelExpr": "datum.value % 20 === 0 && datum.value < 110 ? datum.label : ''", "title": "MOZAIC, WOUDC ozone (ppb)", "labelPadding": 20, "titlePadding": 16}},
            "color": {"field": "s", "type": "nominal", "scale": {"domain": ["M", "W"], "range": ["#0000ff", "#ff0000"]}, "legend": {"legendX": 15, "legendY": 20, "labelOffset": 2, "labelExpr": "datum.value === 'M' ? 'MOZAIC s:1.06(0.08), i:–2.0(3.3), r:0.83, N:54' : 'WOUDC s:0.80(0.03), i:0.5(1.2), r:0.89, N:156'"}},
            "shape": {"field": "s", "type": "nominal", "scale": {"domain": ["M", "W"], "range": ["M-1.2,0H1.2M0,-1.2V1.2", "circle"]}, "legend": {"legendX": 15, "legendY": 20, "labelOffset": 2, "labelExpr": "datum.value === 'M' ? 'MOZAIC s:1.06(0.08), i:–2.0(3.3), r:0.83, N:54' : 'WOUDC s:0.80(0.03), i:0.5(1.2), r:0.89, N:156'"}}
          }
        }
      ]
    },
    {
      "width": 686, "height": 686,
      "title": {"text": ["MOZAIC (Munich), WOUDC (Hohenpeissenberg)—WDCGG", "(Hohenpeissenberg) [950–1150 m] concomitant data/LT"]},
      "resolve": {"axis": {"x": "independent", "y": "independent"}},
      "layer": [
        {
          "data": {"name": "diag"},
          "mark": {"type": "line", "color": "black", "strokeWidth": 1, "strokeDash": [2.5, 9], "clip": true},
          "encoding": {
            "x": {"field": "x", "type": "quantitative", "scale": {"domain": [0, 110], "nice": false}, "axis": {"orient": "top", "values": [0,5,10,15,20,25,30,35,40,45,50,55,60,65,70,75,80,85,90,95,100,105,110], "labels": false, "title": null, "maxExtent": 0}},
            "y": {"field": "y", "type": "quantitative", "scale": {"domain": [0, 110], "nice": false}, "axis": {"orient": "right", "values": [0,5,10,15,20,25,30,35,40,45,50,55,60,65,70,75,80,85,90,95,100,105,110], "labels": false, "title": null, "maxExtent": 0}}
          }
        },
        {
          "data": {"name": "reg"},
          "transform": [{"filter": "datum.p === 2"}],
          "mark": {"type": "line", "strokeWidth": 1.1, "clip": true},
          "encoding": {
            "x": {"field": "x", "type": "quantitative", "axis": null},
            "y": {"field": "y", "type": "quantitative", "axis": null},
            "detail": {"field": "s"},
            "stroke": {"field": "s", "type": "nominal", "scale": {"domain": ["M", "W"], "range": ["#0000ff", "#ff0000"]}, "legend": null}
          }
        },
        {
          "data": {"name": "p2"},
          "mark": {"type": "point", "filled": false, "size": 256, "strokeWidth": 1.1, "opacity": 1},
          "encoding": {
            "x": {"field": "x", "type": "quantitative", "axis": {"orient": "bottom", "values": [0,5,10,15,20,25,30,35,40,45,50,55,60,65,70,75,80,85,90,95,100,105,110], "labelExpr": "datum.value % 20 === 0 && datum.value < 110 ? datum.label : ''", "title": "WDCGG ozone (ppb)", "labelPadding": 23, "titlePadding": 9}},
            "y": {"field": "y", "type": "quantitative", "axis": {"orient": "left", "values": [0,5,10,15,20,25,30,35,40,45,50,55,60,65,70,75,80,85,90,95,100,105,110], "labelExpr": "datum.value % 20 === 0 && datum.value < 110 ? datum.label : ''", "title": "MOZAIC, WOUDC ozone (ppb)", "labelPadding": 20, "titlePadding": 16}},
            "color": {"field": "s", "type": "nominal", "scale": {"domain": ["M", "W"], "range": ["#0000ff", "#ff0000"]}, "legend": {"legendX": 13, "legendY": 20, "labelOffset": 2, "labelExpr": "datum.value === 'M' ? 'MOZAIC s:1.01(0.06), i:0.4(2.5), r:0.90, N:54' : 'WOUDC s:0.88(0.02), i:–0.9(1.0), r:0.94, N:156'"}},
            "shape": {"field": "s", "type": "nominal", "scale": {"domain": ["M", "W"], "range": ["M-1.2,0H1.2M0,-1.2V1.2", "circle"]}, "legend": {"legendX": 13, "legendY": 20, "labelOffset": 2, "labelExpr": "datum.value === 'M' ? 'MOZAIC s:1.01(0.06), i:0.4(2.5), r:0.90, N:54' : 'WOUDC s:0.88(0.02), i:–0.9(1.0), r:0.94, N:156'"}}
          }
        }
      ]
    },
    {
      "width": 686, "height": 686,
      "title": {"text": ["MOZAIC (Narita), WOUDC (Tsukuba)—WDCGG (Tsukuba)", "[0–200 m] all data/LT"]},
      "resolve": {"axis": {"x": "independent", "y": "independent"}},
      "layer": [
        {
          "data": {"name": "diag"},
          "mark": {"type": "line", "color": "black", "strokeWidth": 1, "strokeDash": [2.5, 9], "clip": true},
          "encoding": {
            "x": {"field": "x", "type": "quantitative", "scale": {"domain": [0, 110], "nice": false}, "axis": {"orient": "top", "values": [0,5,10,15,20,25,30,35,40,45,50,55,60,65,70,75,80,85,90,95,100,105,110], "labels": false, "title": null, "maxExtent": 0}},
            "y": {"field": "y", "type": "quantitative", "scale": {"domain": [0, 110], "nice": false}, "axis": {"orient": "right", "values": [0,5,10,15,20,25,30,35,40,45,50,55,60,65,70,75,80,85,90,95,100,105,110], "labels": false, "title": null, "maxExtent": 0}}
          }
        },
        {
          "data": {"name": "reg"},
          "transform": [{"filter": "datum.p === 3"}],
          "mark": {"type": "line", "strokeWidth": 1.1, "clip": true},
          "encoding": {
            "x": {"field": "x", "type": "quantitative", "axis": null},
            "y": {"field": "y", "type": "quantitative", "axis": null},
            "detail": {"field": "s"},
            "stroke": {"field": "s", "type": "nominal", "scale": {"domain": ["M", "W"], "range": ["#0000ff", "#ff0000"]}, "legend": null}
          }
        },
        {
          "data": {"name": "p3"},
          "mark": {"type": "point", "filled": false, "size": 256, "strokeWidth": 1.1, "opacity": 1},
          "encoding": {
            "x": {"field": "x", "type": "quantitative", "axis": {"orient": "bottom", "values": [0,5,10,15,20,25,30,35,40,45,50,55,60,65,70,75,80,85,90,95,100,105,110], "labelExpr": "datum.value % 20 === 0 && datum.value < 110 ? datum.label : ''", "title": "WDCGG ozone (ppb)", "labelPadding": 23, "titlePadding": 9}},
            "y": {"field": "y", "type": "quantitative", "axis": {"orient": "left", "values": [0,5,10,15,20,25,30,35,40,45,50,55,60,65,70,75,80,85,90,95,100,105,110], "labelExpr": "datum.value % 20 === 0 && datum.value < 110 ? datum.label : ''", "title": "MOZAIC, WOUDC ozone (ppb)", "labelPadding": 20, "titlePadding": 16}},
            "color": {"field": "s", "type": "nominal", "scale": {"domain": ["M", "W"], "range": ["#0000ff", "#ff0000"]}, "legend": {"legendX": 15, "legendY": 20, "labelOffset": 1, "labelExpr": "datum.value === 'M' ? 'MOZAIC s:1.50(0.10), i:1.8(2.3), r:0.70, N:117' : 'WOUDC s:1.71(0.08), i:3.9(1.8), r:0.66, N:277'"}},
            "shape": {"field": "s", "type": "nominal", "scale": {"domain": ["M", "W"], "range": ["M-1.2,0H1.2M0,-1.2V1.2", "circle"]}, "legend": {"legendX": 15, "legendY": 20, "labelOffset": 1, "labelExpr": "datum.value === 'M' ? 'MOZAIC s:1.50(0.10), i:1.8(2.3), r:0.70, N:117' : 'WOUDC s:1.71(0.08), i:3.9(1.8), r:0.66, N:277'"}}
          }
        }
      ]
    },
    {
      "width": 686, "height": 686,
      "title": {"text": ["MOZAIC (Narita), WOUDC (Tsukuba)—WDCGG (Tsukuba)", "[0–200 m] concomitant data/LT"]},
      "resolve": {"axis": {"x": "independent", "y": "independent"}},
      "layer": [
        {
          "data": {"name": "diag"},
          "mark": {"type": "line", "color": "black", "strokeWidth": 1, "strokeDash": [2.5, 9], "clip": true},
          "encoding": {
            "x": {"field": "x", "type": "quantitative", "scale": {"domain": [0, 110], "nice": false}, "axis": {"orient": "top", "values": [0,5,10,15,20,25,30,35,40,45,50,55,60,65,70,75,80,85,90,95,100,105,110], "labels": false, "title": null, "maxExtent": 0}},
            "y": {"field": "y", "type": "quantitative", "scale": {"domain": [0, 110], "nice": false}, "axis": {"orient": "right", "values": [0,5,10,15,20,25,30,35,40,45,50,55,60,65,70,75,80,85,90,95,100,105,110], "labels": false, "title": null, "maxExtent": 0}}
          }
        },
        {
          "data": {"name": "reg"},
          "transform": [{"filter": "datum.p === 4"}],
          "mark": {"type": "line", "strokeWidth": 1.1, "clip": true},
          "encoding": {
            "x": {"field": "x", "type": "quantitative", "axis": null},
            "y": {"field": "y", "type": "quantitative", "axis": null},
            "detail": {"field": "s"},
            "stroke": {"field": "s", "type": "nominal", "scale": {"domain": ["M", "W"], "range": ["#0000ff", "#ff0000"]}, "legend": null}
          }
        },
        {
          "data": {"name": "p4"},
          "mark": {"type": "point", "filled": false, "size": 256, "strokeWidth": 1.1, "opacity": 1},
          "encoding": {
            "x": {"field": "x", "type": "quantitative", "axis": {"orient": "bottom", "values": [0,5,10,15,20,25,30,35,40,45,50,55,60,65,70,75,80,85,90,95,100,105,110], "labelExpr": "datum.value % 20 === 0 && datum.value < 110 ? datum.label : ''", "title": "WDCGG ozone (ppb)", "labelPadding": 23, "titlePadding": 9}},
            "y": {"field": "y", "type": "quantitative", "axis": {"orient": "left", "values": [0,5,10,15,20,25,30,35,40,45,50,55,60,65,70,75,80,85,90,95,100,105,110], "labelExpr": "datum.value % 20 === 0 && datum.value < 110 ? datum.label : ''", "title": "MOZAIC, WOUDC ozone (ppb)", "labelPadding": 20, "titlePadding": 16}},
            "color": {"field": "s", "type": "nominal", "scale": {"domain": ["M", "W"], "range": ["#0000ff", "#ff0000"]}, "legend": {"legendX": 13, "legendY": 20, "labelOffset": 9, "labelExpr": "datum.value === 'M' ? 'MOZAIC s:1.06(0.07), i:0.8(2.3), r:0.71, N:115' : 'WOUDC s:1.03(0.03), i:–3.0(1.3), r:0.89, N:273'"}},
            "shape": {"field": "s", "type": "nominal", "scale": {"domain": ["M", "W"], "range": ["M-1.2,0H1.2M0,-1.2V1.2", "circle"]}, "legend": {"legendX": 13, "legendY": 20, "labelOffset": 9, "labelExpr": "datum.value === 'M' ? 'MOZAIC s:1.06(0.07), i:0.8(2.3), r:0.71, N:115' : 'WOUDC s:1.03(0.03), i:–3.0(1.3), r:0.89, N:273'"}}
          }
        }
      ]
    }
  ]
}
